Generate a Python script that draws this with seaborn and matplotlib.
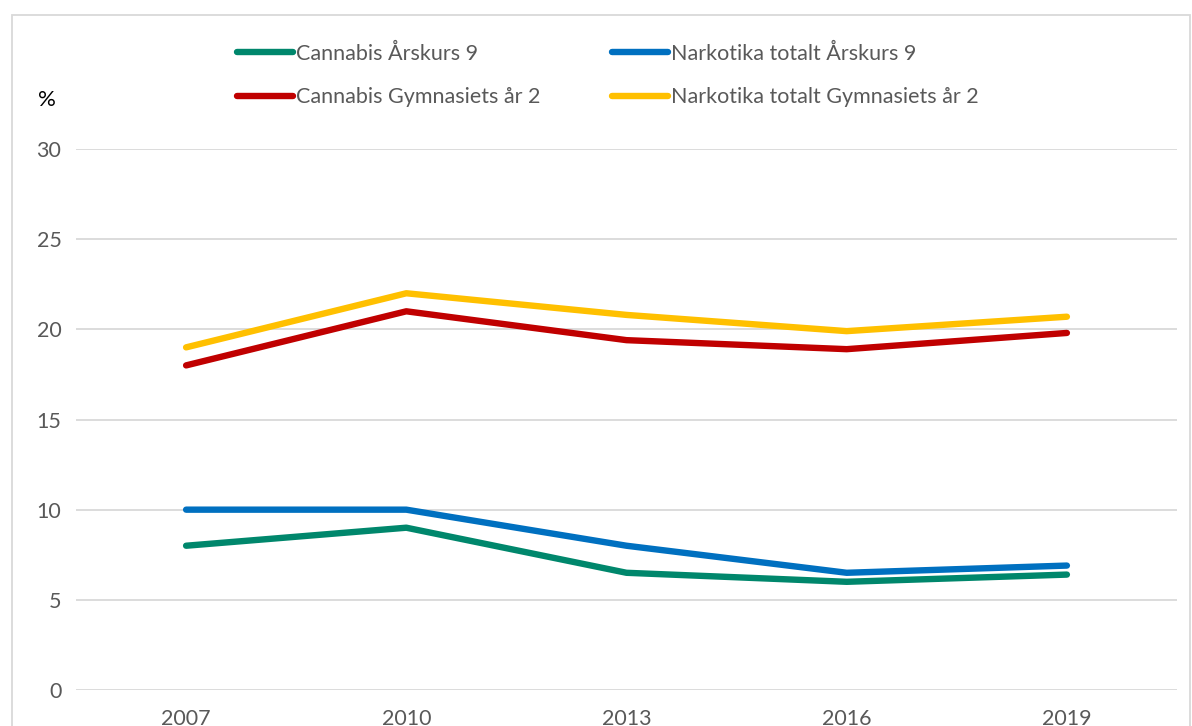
import matplotlib
matplotlib.use("Agg")
import matplotlib.pyplot as plt
import seaborn as sns
import pandas as pd
from matplotlib.patches import Rectangle
from matplotlib.lines import Line2D

years = ["2007", "2010", "2013", "2016", "2019"]
cannabis_ak9 = [8.0, 9.0, 6.5, 6.0, 6.4]
narkotika_ak9 = [10.0, 10.0, 8.0, 6.5, 6.9]
cannabis_gy2 = [18.0, 21.0, 19.4, 18.9, 19.8]
narkotika_gy2 = [19.0, 22.0, 20.8, 19.9, 20.7]

series_names = ["Cannabis Årskurs 9", "Narkotika totalt Årskurs 9",
                "Cannabis Gymnasiets år 2", "Narkotika totalt Gymnasiets år 2"]
series_values = [cannabis_ak9, narkotika_ak9, cannabis_gy2, narkotika_gy2]
colors = ["#00876C", "#0070C0", "#C00000", "#FFC000"]

rows = []
for name, vals in zip(series_names, series_values):
    for y, v in zip(years, vals):
        rows.append({"År": y, "Andel": v, "Serie": name})
df = pd.DataFrame(rows)

sns.set_theme(style="white")
plt.rcParams['font.family'] = ['Lato', 'DejaVu Sans']

fig = plt.figure(figsize=(11.92, 7.26), dpi=100)
W, H = 1192, 726
ax = fig.add_axes([76 / W, 36 / H, (1177 - 76) / W, (690 - 149) / H])

sns.lineplot(data=df, x="År", y="Andel", hue="Serie", hue_order=series_names,
             palette=colors, linewidth=4.6, ax=ax, legend=False,
             solid_capstyle="round", sort=False)

FS = 15.5
ax.set_xlim(-0.5, 4.5)
ax.set_ylim(0, 30)
ax.set_yticks([0, 5, 10, 15, 20, 25, 30])
ax.yaxis.grid(True, color="#D9D9D9", linewidth=1.3)
ax.xaxis.grid(False)
for s in ax.spines.values():
    s.set_visible(False)
ax.set_xlabel("")
ax.set_ylabel("")
ax.tick_params(axis="y", length=0, pad=10.5, labelsize=FS, labelcolor="#595959")
ax.tick_params(axis="x", length=0, pad=14, labelsize=FS, labelcolor="#595959")
ax.set_axisbelow(True)

handles = [Line2D([0], [0], color=c, linewidth=4.6, solid_capstyle="round") for c in colors]
order = [0, 2, 1, 3]
fig.legend([handles[i] for i in order], [series_names[i] for i in order],
           ncol=2, loc="center left", bbox_to_anchor=(218 / W, 1 - 75.5 / H),
           frameon=False, fontsize=FS, handlelength=2.6, handletextpad=0.14,
           columnspacing=3.3, labelspacing=1.09, labelcolor="#595959")

fig.text(47 / W, 1 - 100 / H, "%", fontsize=FS + 0.5, color="black", ha="center", va="center")

fig.patches.append(Rectangle((12 / W, -0.05), (1190 - 12) / W, 1 - 15 / H + 0.05,
                             transform=fig.transFigure, fill=False,
                             edgecolor="#D9D9D9", linewidth=1.3))

fig.savefig("out.png", dpi=100)
